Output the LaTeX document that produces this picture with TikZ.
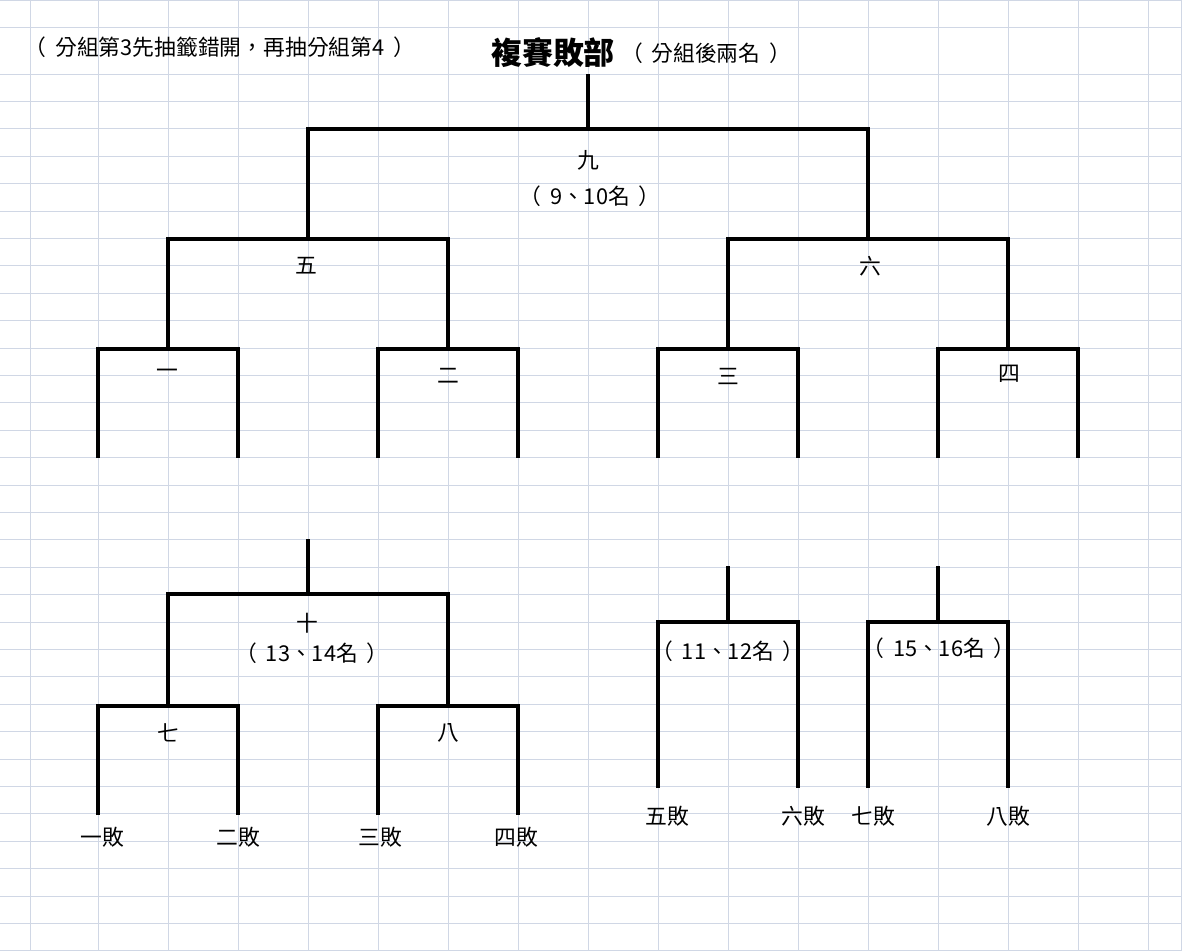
\documentclass[tikz,border=0pt]{standalone}
\usepackage{fontspec}
\setmainfont{Noto Sans CJK TC}
\usepackage{tikz}
\usetikzlibrary{positioning}
\definecolor{gridBlue}{HTML}{D0D7E5}
\newcommand{\pgap}{\hspace{.4em}}
\tikzset{
  gridline/.style = {gridBlue, line width=0.7pt},
  bracket/.style  = {black, line width=2.4pt},
  lbl/.style      = {inner sep=0pt, font=\fontsize{15.5}{15.5}\selectfont},
  ttl/.style      = {inner sep=0pt, font=\fontsize{22}{22}\selectfont\bfseries},
}

\begin{document}
\begin{tikzpicture}[x=0.025cm,y=-0.025cm]
  \useasboundingbox (0,0) rectangle (1182,951);
  \fill[white] (0,0) rectangle (1182,951);
  % sheet grid
  \foreach \x in {98,168,...,1148} \draw[gridline] (\x,0) -- (\x,951);
  \foreach \x in {30,1181} \draw[gridline] (\x,0) -- (\x,951);
  \foreach \r in {0,...,32} \draw[gridline] (0,{74+27.4*\r}) -- (1182,{74+27.4*\r});
  \foreach \y in {0.5,27} \draw[gridline] (0,\y) -- (1182,\y);

  % upper bracket
  \coordinate (top9) at (588,74);
  \coordinate (m9) at (588,129);
  \coordinate (m5) at (308,239);
  \coordinate (m6) at (868,239);
  \coordinate (m1) at (168,349);
  \coordinate (m2) at (448,349);
  \coordinate (m3) at (728,349);
  \coordinate (m4) at (1008,349);
  \coordinate (q1a) at (98,458);
  \coordinate (q1b) at (238,458);
  \coordinate (q2a) at (378,458);
  \coordinate (q2b) at (518,458);
  \coordinate (q3a) at (658,458);
  \coordinate (q3b) at (798,458);
  \coordinate (q4a) at (938,458);
  \coordinate (q4b) at (1078,458);
  \draw[bracket] (top9) -- (m9);
  \draw[bracket] (m5) |- (m9) -| (m6);
  \draw[bracket] (m1) |- (m5) -| (m2);
  \draw[bracket] (m3) |- (m6) -| (m4);
  \draw[bracket] (q1a) |- (m1) -| (q1b);
  \draw[bracket] (q2a) |- (m2) -| (q2b);
  \draw[bracket] (q3a) |- (m3) -| (q3b);
  \draw[bracket] (q4a) |- (m4) -| (q4b);

  % lower brackets
  \coordinate (top10) at (308,539);
  \coordinate (m10) at (308,594);
  \coordinate (m7) at (168,706);
  \coordinate (m8) at (448,706);
  \coordinate (p7a) at (98,815);
  \coordinate (p7b) at (238,815);
  \coordinate (p8a) at (378,815);
  \coordinate (p8b) at (518,815);
  \coordinate (top11) at (728,566);
  \coordinate (m11) at (728,622);
  \coordinate (p11a) at (658,788);
  \coordinate (p11b) at (798,788);
  \coordinate (top15) at (938,566);
  \coordinate (m15) at (938,622);
  \coordinate (p15a) at (868,788);
  \coordinate (p15b) at (1008,788);
  \draw[bracket] (top10) -- (m10);
  \draw[bracket] (m7) |- (m10) -| (m8);
  \draw[bracket] (p7a) |- (m7) -| (p7b);
  \draw[bracket] (p8a) |- (m8) -| (p8b);
  \draw[bracket] (top11) -- (m11);
  \draw[bracket] (p11a) |- (m11) -| (p11b);
  \draw[bracket] (top15) -- (m15);
  \draw[bracket] (p15a) |- (m15) -| (p15b);

  \node[lbl] (note) at (220,47) {（\pgap 分組第3先抽籤錯開，再抽分組第4\pgap ）};
  \node[ttl] (title) at (553,53) {複賽敗部};
  \node[lbl] (titlenote) at (706,53) {（\pgap 分組後兩名\pgap ）};
  \node[lbl] (r9) at (588,160) {九};
  \node[lbl] (r9rank) at (590,196) {（\pgap 9、10名\pgap ）};
  \node[lbl] (r5) at (306,266) {五};
  \node[lbl] (r6) at (870,266) {六};
  \node[lbl] (r1) at (167,374) {一};
  \node[lbl] (r2) at (448,376) {二};
  \node[lbl] (r3) at (728,376) {三};
  \node[lbl] (r4) at (1009,374) {四};
  \node[lbl] (r10) at (307,623) {十};
  \node[lbl] (r10rank) at (312,653) {（\pgap 13、14名\pgap ）};
  \node[lbl] (r7) at (168,733) {七};
  \node[lbl] (r8) at (448,733) {八};
  \node[lbl] (r11rank) at (728,651) {（\pgap 11、12名\pgap ）};
  \node[lbl] (r15rank) at (939,648) {（\pgap 15、16名\pgap ）};
  \node[lbl] (l1) at (102,837) {一敗};
  \node[lbl] (l2) at (238,837) {二敗};
  \node[lbl] (l3) at (380,837) {三敗};
  \node[lbl] (l4) at (516,837) {四敗};
  \node[lbl] (l5) at (667,816) {五敗};
  \node[lbl] (l6) at (803,816) {六敗};
  \node[lbl] (l7) at (873,816) {七敗};
  \node[lbl] (l8) at (1008,816) {八敗};
\end{tikzpicture}
\end{document}
